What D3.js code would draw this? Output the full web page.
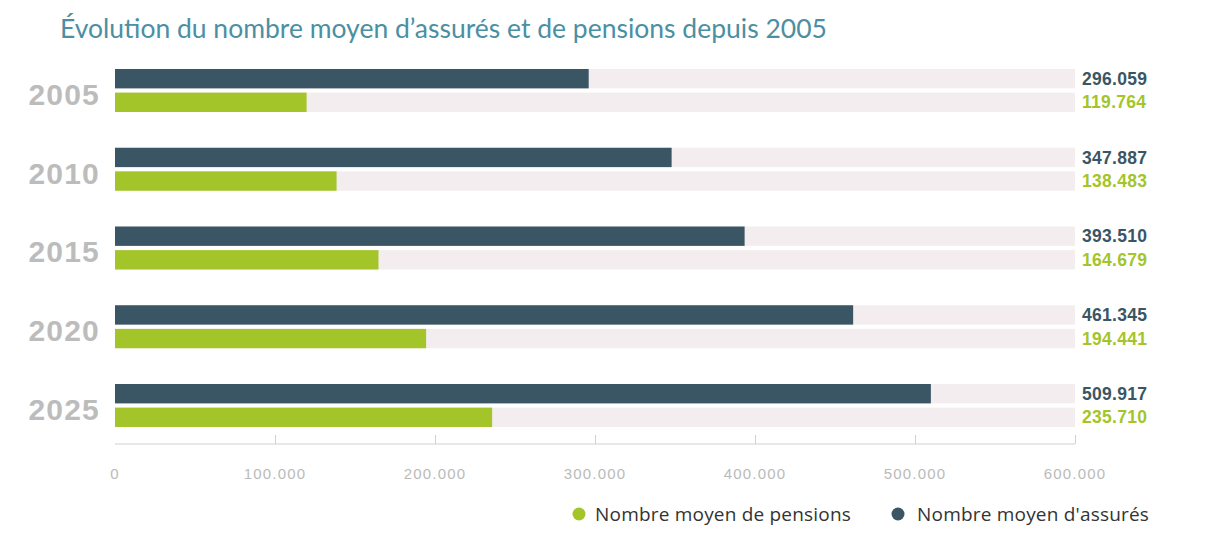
<!DOCTYPE html>
<html>
<head>
<meta charset="utf-8">
<script src="https://cdn.jsdelivr.net/npm/d3@7"></script>
<style>
  body { margin: 0; background: #fff; }
</style>
</head>
<body>
<script>
// data
var years = ["2005", "2010", "2015", "2020", "2025"];
var assures = [296059, 347887, 393510, 461345, 509917];
var pensions = [119764, 138483, 164679, 194441, 235710];
var seriesKeys = ["assures", "pensions"];
var seriesNames = ["Nombre moyen de pensions", "Nombre moyen d'assurés"];
var ticks = [0, 100000, 200000, 300000, 400000, 500000, 600000];

var W = 1224, H = 548;
var colors = { assures: "#3a5664", pensions: "#a4c52a" };

var svg = d3.select("body").append("svg")
    .attr("width", W)
    .attr("height", H);

// titel
svg.append("text")
    .attr("x", 60)
    .attr("y", 38)
    .attr("font-family", "Lato, sans-serif")
    .attr("font-size", 26.5)
    .attr("fill", "#4b8fa3")
    .text("Évolution du nombre moyen d’assurés et de pensions depuis 2005");

var x = d3.scaleLinear()
    .domain([0, 600000])
    .range([115, 1075]);

var step = 78.75, pIn = 0.454, pOut = 0.3;
var y0 = d3.scaleBand()
    .domain(years)
    .paddingInner(pIn)
    .paddingOuter(pOut)
    .range([69 - step * pOut, 69 - step * pOut + step * (years.length - pIn + 2 * pOut)]);

var y1 = d3.scaleBand()
    .domain(seriesKeys)
    .paddingInner(0.18)
    .range([0, y0.bandwidth()]);

var rows = years.map(function (yr, i) {
    return { year: yr, assures: assures[i], pensions: pensions[i] };
});

var groups = svg.append("g")
    .selectAll("g")
    .data(rows)
    .enter().append("g")
    .attr("transform", function (d) { return "translate(0," + y0(d.year) + ")"; });

// achtergrond balken
groups.selectAll("rect.bg")
    .data(seriesKeys)
    .enter().append("rect")
    .attr("class", "bg")
    .attr("x", x(0))
    .attr("y", function (k) { return y1(k); })
    .attr("width", x(600000) - x(0))
    .attr("height", y1.bandwidth())
    .attr("fill", "#f3edef");

groups.selectAll("rect.val")
    .data(function (d) { return seriesKeys.map(function (k) { return { key: k, value: d[k] }; }); })
    .enter().append("rect")
    .attr("class", "val")
    .attr("x", x(0))
    .attr("y", function (d) { return y1(d.key); })
    .attr("width", function (d) { return x(d.value) - x(0); })
    .attr("height", y1.bandwidth())
    .attr("fill", function (d) { return colors[d.key]; });

var fmt = d3.formatLocale({ decimal: ",", thousands: ".", grouping: [3], currency: ["", "€"] }).format(",d");

groups.selectAll("text.val")
    .data(function (d) { return seriesKeys.map(function (k) { return { key: k, value: d[k] }; }); })
    .enter().append("text")
    .attr("class", "val")
    .attr("x", 1082)
    .attr("y", function (d) { return y1(d.key) + y1.bandwidth() / 2; })
    .attr("dy", "0.35em")
    .attr("font-family", "Liberation Sans, Arial, sans-serif")
    .attr("font-weight", "bold")
    .attr("font-size", 17.5)
    .attr("letter-spacing", 0.3)
    .attr("fill", function (d) { return colors[d.key]; })
    .text(function (d) { return fmt(d.value); });

// jaartallen
groups.append("text")
    .attr("x", 100)
    .attr("y", y0.bandwidth() / 2 + 14.5)
    .attr("text-anchor", "end")
    .attr("font-family", "Liberation Sans, Arial, sans-serif")
    .attr("font-weight", "bold")
    .attr("font-size", 30)
    .attr("letter-spacing", 1.2)
    .attr("fill", "#bcbcbc")
    .text(function (d) { return d.year; });

// x-as
var axis = svg.append("g")
    .attr("transform", "translate(0,444)")
    .call(d3.axisTop(x).tickValues(ticks).tickSize(9).tickFormat(""));
axis.select(".domain").attr("d", "M" + x(0) + ",0H" + x(600000)).attr("stroke", "#d0d0d0");
axis.selectAll(".tick line").attr("stroke", "#d0d0d0");
axis.selectAll(".tick").filter(function (d) { return d === 0; }).select("line").remove();

svg.append("g")
    .selectAll("text")
    .data(ticks)
    .enter().append("text")
    .attr("x", function (d) { return x(d); })
    .attr("y", 479)
    .attr("text-anchor", "middle")
    .attr("font-family", "Liberation Sans, Arial, sans-serif")
    .attr("font-size", 15)
    .attr("letter-spacing", 1.2)
    .attr("fill", "#bababa")
    .text(function (d) { return d === 0 ? "0" : fmt(d); });

// legenda
var legendData = [
    { name: seriesNames[0], key: "pensions", cx: 579, tx: 595 },
    { name: seriesNames[1], key: "assures", cx: 898, tx: 917 }
];
var legend = svg.append("g")
    .selectAll("g")
    .data(legendData)
    .enter().append("g");

legend.append("circle")
    .attr("cx", function (d) { return d.cx; })
    .attr("cy", 514)
    .attr("r", 6.5)
    .attr("fill", function (d) { return colors[d.key]; });

legend.append("text")
    .attr("x", function (d) { return d.tx; })
    .attr("y", 514)
    .attr("dy", "0.35em")
    .attr("font-family", "Open Sans, sans-serif")
    .attr("font-size", 19)
    .attr("letter-spacing", 0.2)
    .attr("fill", "#333")
    .text(function (d) { return d.name; });
</script>
</body>
</html>
